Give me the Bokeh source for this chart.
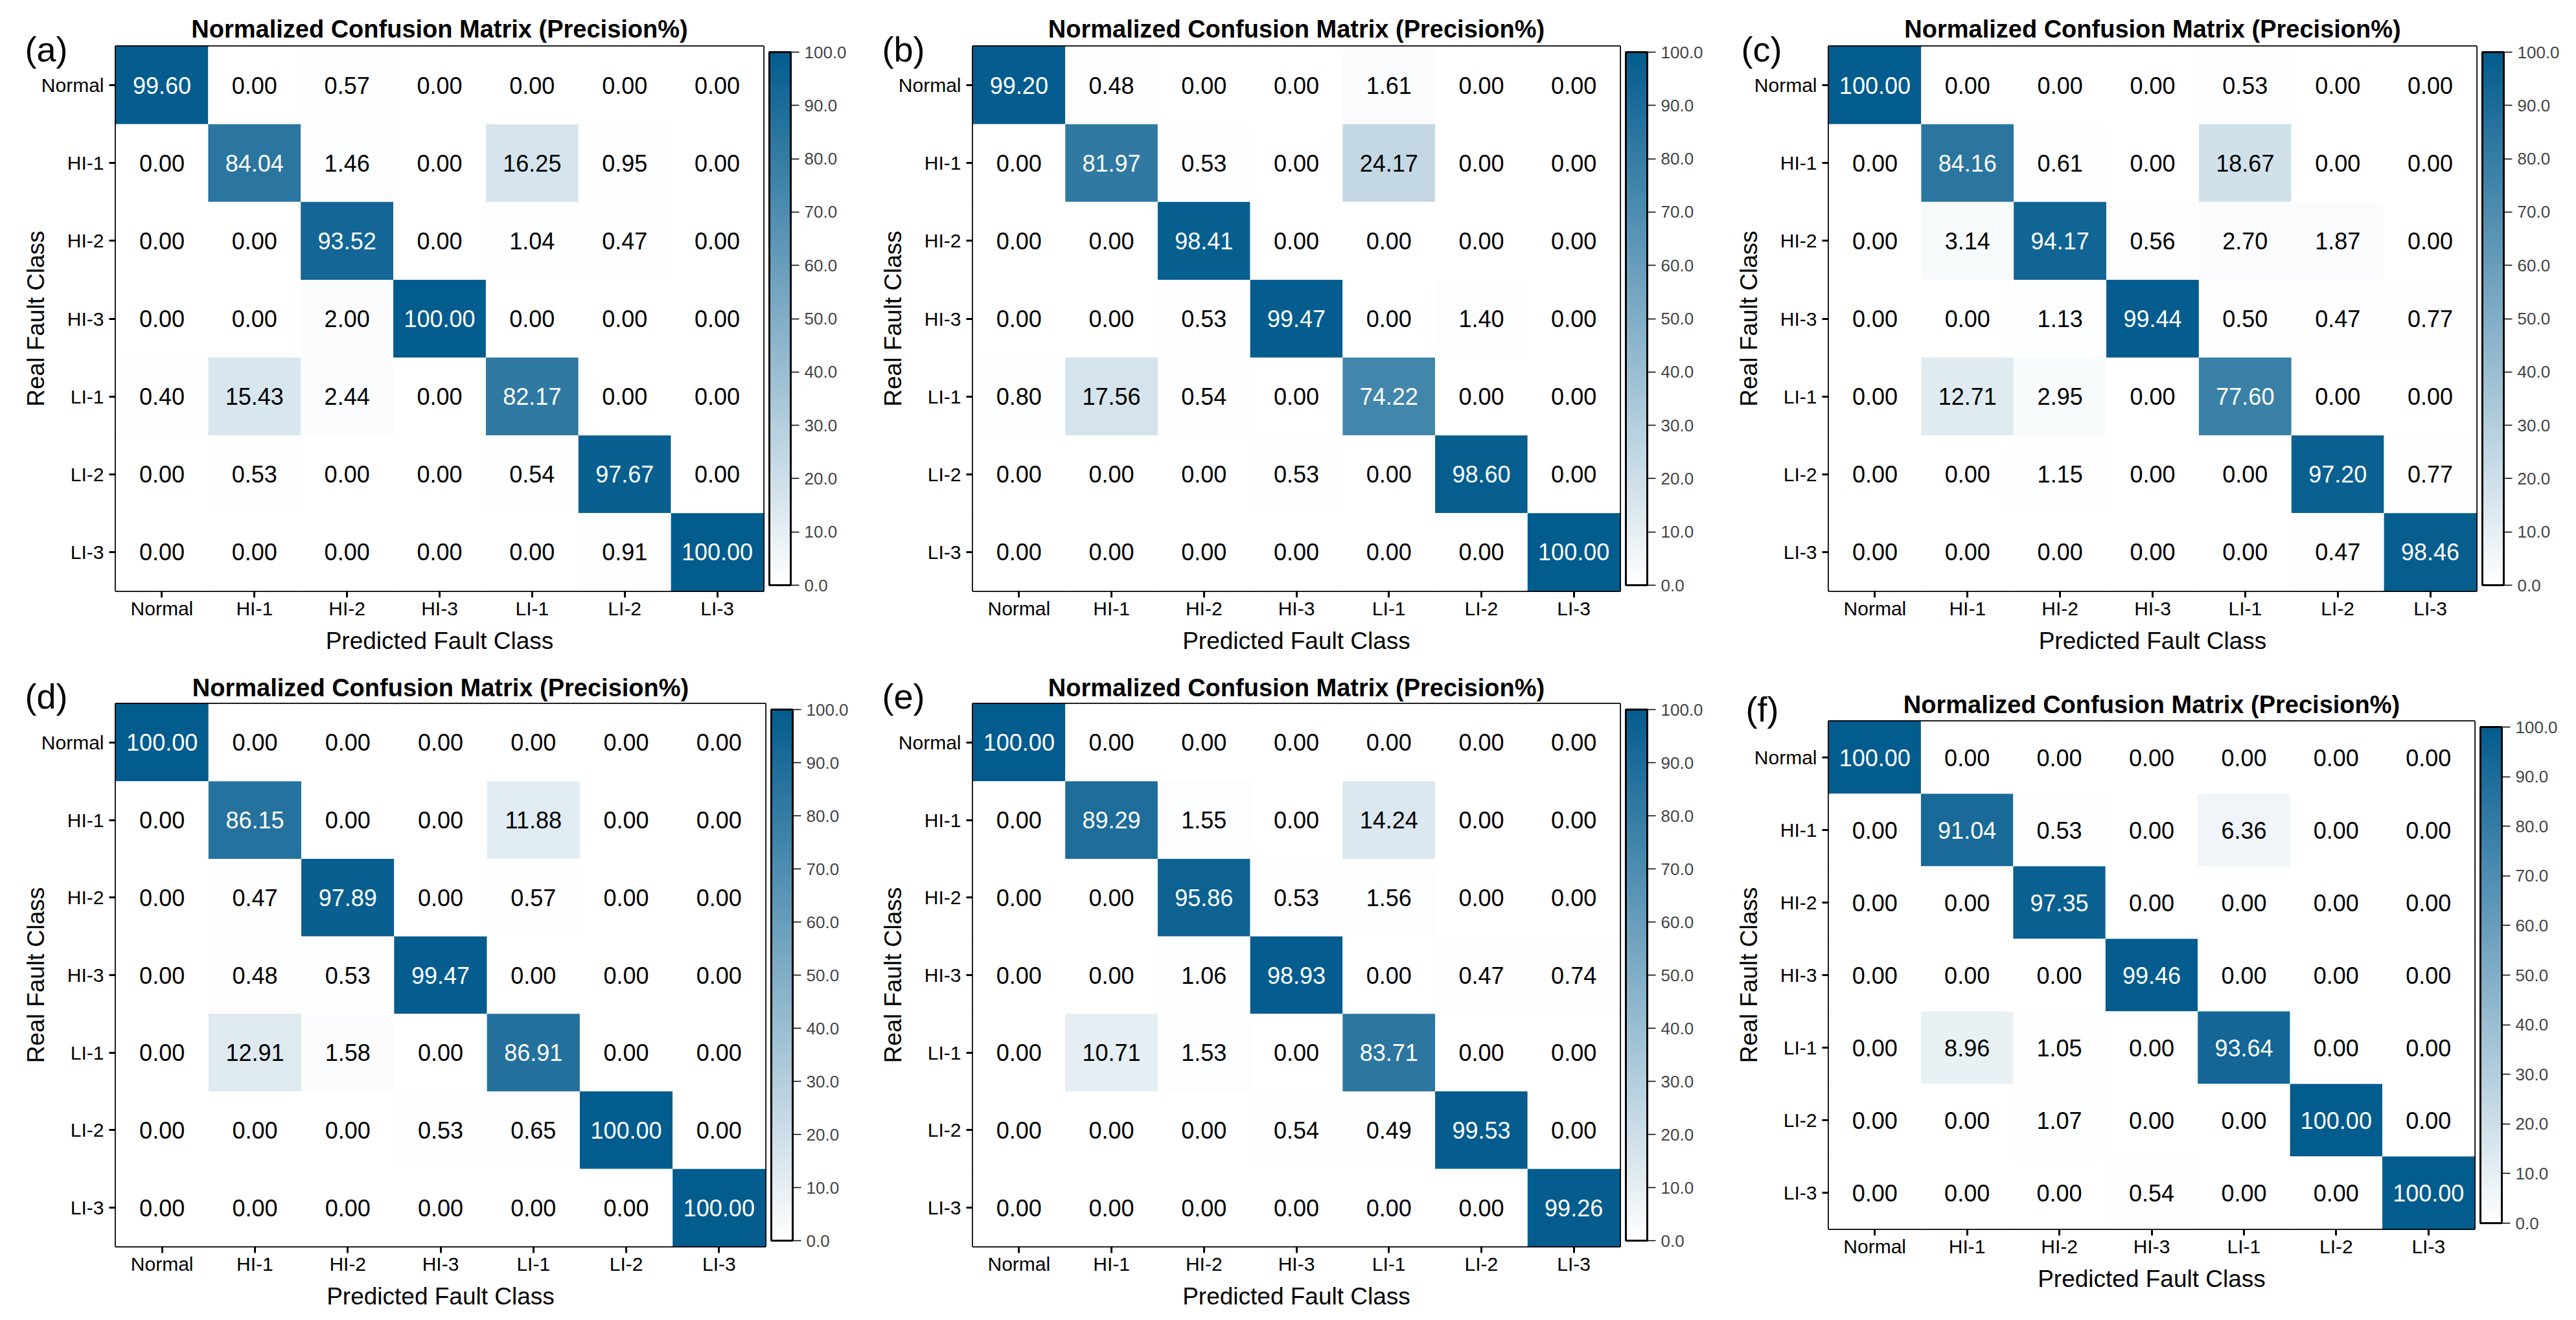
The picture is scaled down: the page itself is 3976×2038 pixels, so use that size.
import numpy as np
from bokeh.plotting import figure
from bokeh.layouts import column, row
from bokeh.models import (ColumnDataSource, LinearColorMapper, ColorBar, FixedTicker,
                          PrintfTickFormatter, Title)
from bokeh.core.properties import value
from bokeh.embed import file_html
from bokeh.resources import INLINE

# ---------------- data ----------------
classes = ["Normal", "HI-1", "HI-2", "HI-3", "LI-1", "LI-2", "LI-3"]
cbar_ticks = [0, 10, 20, 30, 40, 50, 60, 70, 80, 90, 100]

cm_a = [
    [99.60, 0.00, 0.57, 0.00, 0.00, 0.00, 0.00],
    [0.00, 84.04, 1.46, 0.00, 16.25, 0.95, 0.00],
    [0.00, 0.00, 93.52, 0.00, 1.04, 0.47, 0.00],
    [0.00, 0.00, 2.00, 100.00, 0.00, 0.00, 0.00],
    [0.40, 15.43, 2.44, 0.00, 82.17, 0.00, 0.00],
    [0.00, 0.53, 0.00, 0.00, 0.54, 97.67, 0.00],
    [0.00, 0.00, 0.00, 0.00, 0.00, 0.91, 100.00],
]
cm_b = [
    [99.20, 0.48, 0.00, 0.00, 1.61, 0.00, 0.00],
    [0.00, 81.97, 0.53, 0.00, 24.17, 0.00, 0.00],
    [0.00, 0.00, 98.41, 0.00, 0.00, 0.00, 0.00],
    [0.00, 0.00, 0.53, 99.47, 0.00, 1.40, 0.00],
    [0.80, 17.56, 0.54, 0.00, 74.22, 0.00, 0.00],
    [0.00, 0.00, 0.00, 0.53, 0.00, 98.60, 0.00],
    [0.00, 0.00, 0.00, 0.00, 0.00, 0.00, 100.00],
]
cm_c = [
    [100.00, 0.00, 0.00, 0.00, 0.53, 0.00, 0.00],
    [0.00, 84.16, 0.61, 0.00, 18.67, 0.00, 0.00],
    [0.00, 3.14, 94.17, 0.56, 2.70, 1.87, 0.00],
    [0.00, 0.00, 1.13, 99.44, 0.50, 0.47, 0.77],
    [0.00, 12.71, 2.95, 0.00, 77.60, 0.00, 0.00],
    [0.00, 0.00, 1.15, 0.00, 0.00, 97.20, 0.77],
    [0.00, 0.00, 0.00, 0.00, 0.00, 0.47, 98.46],
]
cm_d = [
    [100.00, 0.00, 0.00, 0.00, 0.00, 0.00, 0.00],
    [0.00, 86.15, 0.00, 0.00, 11.88, 0.00, 0.00],
    [0.00, 0.47, 97.89, 0.00, 0.57, 0.00, 0.00],
    [0.00, 0.48, 0.53, 99.47, 0.00, 0.00, 0.00],
    [0.00, 12.91, 1.58, 0.00, 86.91, 0.00, 0.00],
    [0.00, 0.00, 0.00, 0.53, 0.65, 100.00, 0.00],
    [0.00, 0.00, 0.00, 0.00, 0.00, 0.00, 100.00],
]
cm_e = [
    [100.00, 0.00, 0.00, 0.00, 0.00, 0.00, 0.00],
    [0.00, 89.29, 1.55, 0.00, 14.24, 0.00, 0.00],
    [0.00, 0.00, 95.86, 0.53, 1.56, 0.00, 0.00],
    [0.00, 0.00, 1.06, 98.93, 0.00, 0.47, 0.74],
    [0.00, 10.71, 1.53, 0.00, 83.71, 0.00, 0.00],
    [0.00, 0.00, 0.00, 0.54, 0.49, 99.53, 0.00],
    [0.00, 0.00, 0.00, 0.00, 0.00, 0.00, 99.26],
]
cm_f = [
    [100.00, 0.00, 0.00, 0.00, 0.00, 0.00, 0.00],
    [0.00, 91.04, 0.53, 0.00, 6.36, 0.00, 0.00],
    [0.00, 0.00, 97.35, 0.00, 0.00, 0.00, 0.00],
    [0.00, 0.00, 0.00, 99.46, 0.00, 0.00, 0.00],
    [0.00, 8.96, 1.05, 0.00, 93.64, 0.00, 0.00],
    [0.00, 0.00, 1.07, 0.00, 0.00, 100.00, 0.00],
    [0.00, 0.00, 0.00, 0.54, 0.00, 0.00, 100.00],
]

TITLE = "Normalized Confusion Matrix (Precision%)"
XLABEL = "Predicted Fault Class"
YLABEL = "Real Fault Class"

# ---------------- style ----------------
FONT = "Liberation Sans"
DARK = (3, 92, 142)
palette = []
for t in np.linspace(0, 1, 256):
    r = round(255 + (DARK[0] - 255) * t)
    g = round(255 + (DARK[1] - 255) * t)
    b = round(255 + (DARK[2] - 255) * t)
    palette.append("#%02x%02x%02x" % (r, g, b))


def make_panel(letter, cm, w, h, bl, br, bt, bb, lx, s_letter, s_title):
    mapper = LinearColorMapper(palette=palette, low=0, high=100)
    xs, ys, vals, labels, tcols = [], [], [], [], []
    for i, real in enumerate(classes):
        for j, pred in enumerate(classes):
            v = cm[i][j]
            xs.append(pred)
            ys.append(real)
            vals.append(v)
            labels.append("%.2f" % v)
            tcols.append("white" if v > 50 else "black")
    src = ColumnDataSource(dict(x=xs, y=ys, v=vals, lab=labels, tc=tcols))

    p = figure(x_range=classes, y_range=classes[::-1],
               width=w, height=h,
               min_border_left=bl, min_border_right=br,
               min_border_top=bt, min_border_bottom=bb,
               output_backend="svg", toolbar_location=None, title=TITLE)
    p.rect(x="x", y="y", width=1, height=1, source=src,
           fill_color={"field": "v", "transform": mapper}, line_color=None)
    p.text(x="x", y="y", text="lab", source=src, text_color="tc",
           text_align="center", text_baseline="middle",
           text_font=value(FONT), text_font_size="36px")

    # main title (outermost in the "above" panel)
    p.title.text_font = FONT
    p.title.text_font_size = "38px"
    p.title.text_font_style = "bold"
    p.title.text_color = "black"
    p.title.align = "center"
    p.title.vertical_align = "bottom"
    p.title.standoff = s_title

    # panel letter (innermost in the "above" panel)
    lt = Title(text=letter, align="left", offset=lx, vertical_align="bottom",
               standoff=s_letter, text_font=FONT, text_font_size="54px",
               text_font_style="normal", text_color="black")
    p.add_layout(lt, "above")

    p.grid.visible = False
    p.outline_line_color = "black"
    p.outline_line_width = 3
    p.outline_line_alpha = 1.0
    p.background_fill_color = "white"
    p.border_fill_color = "white"

    p.xaxis.axis_label = XLABEL
    p.yaxis.axis_label = YLABEL
    for ax in (p.xaxis[0], p.yaxis[0]):
        ax.axis_line_color = None
        ax.major_tick_out = 10
        ax.major_tick_in = 0
        ax.major_tick_line_width = 3
        ax.major_tick_line_color = "black"
        ax.minor_tick_line_color = None
        ax.major_label_text_font = FONT
        ax.major_label_text_font_size = "30px"
        ax.major_label_text_color = "black"
        ax.axis_label_text_font = FONT
        ax.axis_label_text_font_size = "37px"
        ax.axis_label_text_font_style = "normal"
        ax.axis_label_text_color = "black"
    p.xaxis.major_label_standoff = 0
    p.xaxis.axis_label_standoff = 10
    p.yaxis.major_label_standoff = 8
    p.yaxis.axis_label_standoff = -15

    cb = ColorBar(color_mapper=mapper, ticker=FixedTicker(ticks=cbar_ticks),
                  formatter=PrintfTickFormatter(format="%.1f"),
                  width=33, padding=9, margin=0,
                  bar_line_color="black", bar_line_width=3,
                  major_tick_line_color="black", major_tick_out=13, major_tick_in=0,
                  major_tick_line_width=1.5, minor_tick_line_color=None,
                  major_label_text_font=FONT, major_label_text_font_size="26px",
                  label_standoff=8, background_fill_alpha=0, border_line_color=None)
    p.add_layout(cb, "right")
    return p


pa = make_panel("(a)", cm_a, 1330, 1020, 178, 152, 71, 108, -140, -69, 12)
pb = make_panel("(b)", cm_b, 1330, 1020, 171, 160, 71, 108, -140, -69, 12)
pc = make_panel("(c)", cm_c, 1316, 1020, 162, 154, 71, 108, -135, -69, 12)
pd = make_panel("(d)", cm_d, 1330, 1018, 178, 149, 66, 114, -140, -37, -42)
pe = make_panel("(e)", cm_e, 1330, 1018, 171, 160, 66, 114, -140, -37, -42)
pf = make_panel("(f)", cm_f, 1316, 1018, 162, 157, 93, 141, -128, -23, -68)

layout = column(row(column(pa), column(pb), column(pc)),
                row(column(pd), column(pe), column(pf)))
open("out.html", "w").write(file_html(layout, INLINE))
